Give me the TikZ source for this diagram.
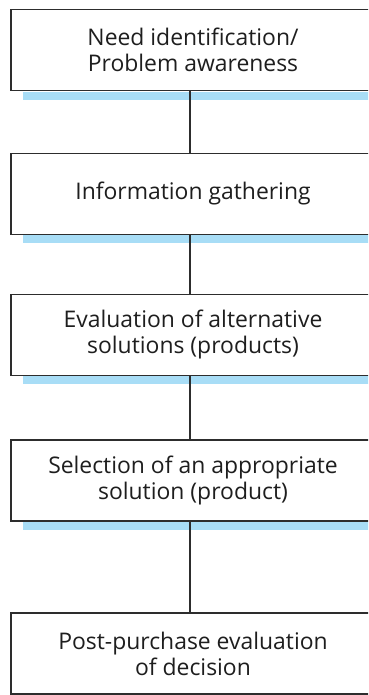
\documentclass[tikz,border=0pt]{standalone}
\usepackage{fontspec}
\setmainfont{Open Sans}
\definecolor{barblue}{RGB}{168,221,246}
\definecolor{linegray}{RGB}{45,45,45}
\definecolor{txtgray}{RGB}{30,30,30}
\tikzset{
  stagebox/.style={draw=linegray, line width=1.1bp, fill=white, rectangle,
    minimum width=364bp, minimum height=81bp, inner sep=0pt, align=center,
    text=txtgray, font=\fontsize{23}{26}\selectfont},
  link/.style={draw=linegray, line width=1.1bp},
  bar/.style={fill=barblue, draw=none}
}
\begin{document}
\begin{tikzpicture}[x=1bp,y=-1bp]
\useasboundingbox (0,0) rectangle (368,695);
\begin{scope}
\clip (0,0) rectangle (368,695);
\node[stagebox] (s1) at (193,50.1) {Need identification/\\Problem awareness};
\node[stagebox] (s2) at (193,193.7) {Information gathering};
\node[stagebox] (s3) at (193,334.9) {Evaluation of alternative\\solutions (products)};
\node[stagebox] (s4) at (193,480.5) {Selection of an appropriate\\solution (product)};
\node[stagebox] (s5) at (193,653.5) {Post-purchase evaluation\\of decision};
\foreach \n in {s1,s2,s3,s4}{
  \fill[bar] ([xshift=13bp,yshift=-0.5bp]\n.south west) rectangle ([xshift=13bp,yshift=-8.5bp]\n.south east);
}
\draw[link] ([xshift=-3bp]s1.south) -- ([xshift=-3bp]s2.north);
\draw[link] ([xshift=-3bp]s2.south) -- ([xshift=-3bp]s3.north);
\draw[link] ([xshift=-3bp]s3.south) -- ([xshift=-3bp]s4.north);
\draw[link] ([xshift=-3bp]s4.south) -- ([xshift=-3bp]s5.north);
\end{scope}
\end{tikzpicture}
\end{document}
